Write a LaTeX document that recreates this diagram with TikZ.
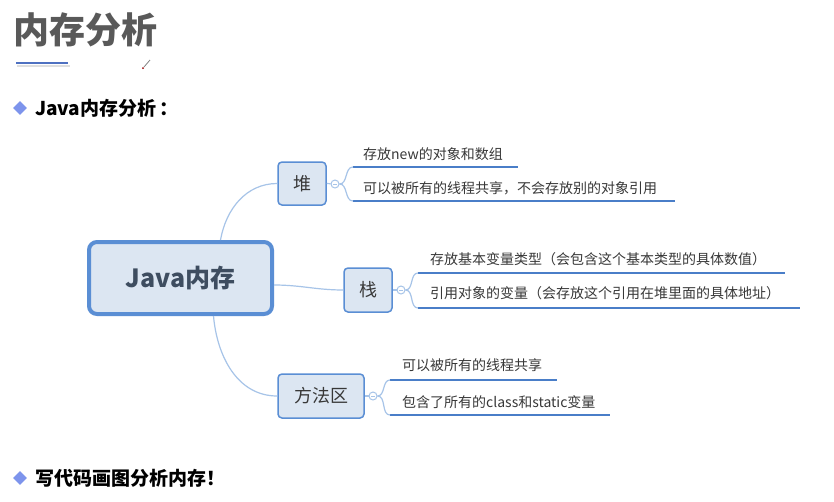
\documentclass[tikz,border=0pt]{standalone}
\usepackage{fontspec}
\setmainfont{Noto Sans CJK SC}
\usetikzlibrary{shapes.geometric}

\definecolor{titlegray}{HTML}{595959}
\definecolor{linkblue}{HTML}{A7C4E8}
\definecolor{lineblue}{HTML}{4A7EC8}
\definecolor{boxblue}{HTML}{5A8ED4}
\definecolor{boxfill}{HTML}{DCE6F2}
\definecolor{bullet}{HTML}{7D94EC}
\definecolor{leaftext}{HTML}{383838}
\definecolor{maintext}{HTML}{3E4D60}

\tikzset{
  topic/.style={draw=boxblue, line width=1.5pt, fill=boxfill, rounded corners=4pt,
    inner sep=0pt, text=leaftext, font=\fontsize{18}{20}\selectfont},
  fold/.style={draw=linkblue, line width=1pt, fill=white, circle, inner sep=0pt, minimum size=8pt},
  leaf/.style={anchor=west, inner sep=0pt, text=leaftext, font=\fontsize{14}{16}\selectfont},
  uline/.style={lineblue, line width=2pt},
  link/.style={linkblue, line width=1.2pt},
  dmark/.style={diamond, fill=bullet, inner sep=0pt, minimum size=14pt},
  headline/.style={anchor=west, inner sep=0pt, font=\bfseries\fontsize{19}{22}\selectfont}
}

\begin{document}
\begin{tikzpicture}[x=1pt, y=-1pt]
\useasboundingbox[fill=white] (0,0) rectangle (834,501);

% title
\node[anchor=west, inner sep=0pt, text=titlegray, font=\bfseries\fontsize{36}{40}\selectfont] (title) at (13,30) {内存分析};
\draw[gray!25, line width=2pt] (17,66) -- (70,66);
\draw[lineblue!90!violet, line width=2pt] (16,63) -- (68,63);
\draw[gray, line width=0.8pt] (144,67) -- (150,60);
\fill[red!60!black] (143,68) circle (1pt);

% bullets
\node[dmark] (b1) at (20,108) {};
\node[headline] (h) at (35,108) {Java内存分析\,：};
\node[dmark] (b2) at (20,478) {};
\node[headline] (w) at (35,478) {写代码画图分析内存！};

% central node
\node[draw=boxblue, line width=4pt, fill=boxfill, rounded corners=8pt, minimum width=183pt,
  minimum height=72pt, text=maintext, font=\bfseries\fontsize{25}{28}\selectfont] (main) at (180.5,278) {Java内存};

% topics
\node[topic, minimum width=48pt, minimum height=43pt] (heap) at (302,183.5) {堆};
\node[topic, minimum width=48pt, minimum height=44pt] (stack) at (368,290) {栈};
\node[topic, minimum width=86pt, minimum height=44pt] (method) at (321,396) {方法区};

\draw[link] ([xshift=40pt]main.north) to[out=80, in=180] (heap.west);
\draw[link] ([yshift=-7pt]main.east) to[out=0, in=180] (stack.west);
\draw[link] ([xshift=33pt]main.south) to[out=-85, in=180] (method.west);

% fold marks
\node[fold] (hc) at (335,184) {};
\node[fold] (sc) at (401,290) {};
\node[fold] (mc) at (373,396) {};
\foreach \c in {hc,sc,mc}
  \draw[linkblue, line width=0.8pt] ([xshift=-2pt]\c.center) -- ([xshift=2pt]\c.center);
\draw[link] (heap.east) -- (hc);
\draw[link] (stack.east) -- (sc);
\draw[link] (method.east) -- (mc);

% heap leaves
\node[leaf] (h1) at (363,154) {存放new的对象和数组};
\node[leaf] (h2) at (363,188) {可以被所有的线程共享，不会存放别的对象引用};
\coordinate (h1a) at (353,167); \coordinate (h1b) at (518,167);
\coordinate (h2a) at (353,201); \coordinate (h2b) at (675,201);
\draw[uline] (h1a) -- (h1b); \draw[uline] (h2a) -- (h2b);
\draw[link] (hc.east) to[out=0, in=180] (h1a);
\draw[link] (hc.east) to[out=0, in=180] (h2a);

% stack leaves
\node[leaf] (s1) at (430,259) {存放基本变量类型（会包含这个基本类型的具体数值）};
\node[leaf] (s2) at (430,293) {引用对象的变量（会存放这个引用在堆里面的具体地址）};
\coordinate (s1a) at (418,273); \coordinate (s1b) at (785,273);
\coordinate (s2a) at (418,308); \coordinate (s2b) at (800,308);
\draw[uline] (s1a) -- (s1b); \draw[uline] (s2a) -- (s2b);
\draw[link] (sc.east) to[out=0, in=180] (s1a);
\draw[link] (sc.east) to[out=0, in=180] (s2a);

% method area leaves
\node[leaf] (m1) at (402,365) {可以被所有的线程共享};
\node[leaf] (m2) at (402,402) {包含了所有的class和static变量};
\coordinate (m1a) at (390,380); \coordinate (m1b) at (557,380);
\coordinate (m2a) at (390,415); \coordinate (m2b) at (610,415);
\draw[uline] (m1a) -- (m1b); \draw[uline] (m2a) -- (m2b);
\draw[link] (mc.east) to[out=0, in=180] (m1a);
\draw[link] (mc.east) to[out=0, in=180] (m2a);
\end{tikzpicture}
\end{document}
